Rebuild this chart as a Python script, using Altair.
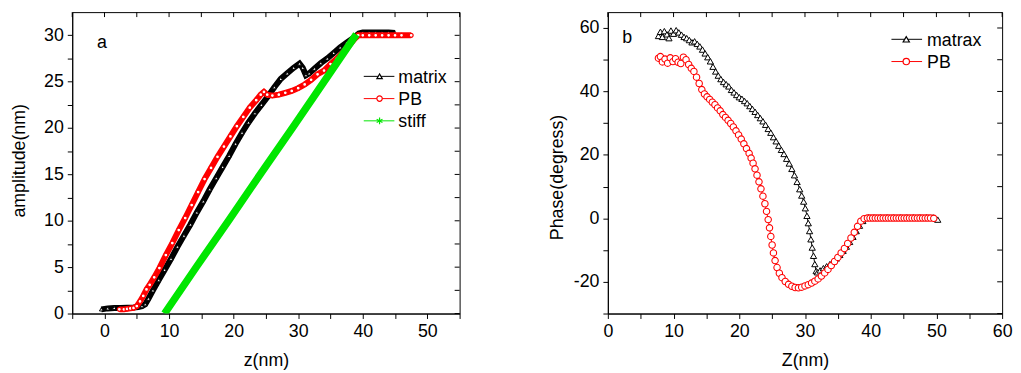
import altair as alt
import pandas as pd

FONT = "Liberation Sans"
FS = 18

# ---------------- panel a : amplitude vs z ----------------
a_matrix_z = [-0.5, 0.5, 1.5, 2.5, 3.5, 4.5, 5.2, 5.8, 6.3, 6.8, 7.5, 8.4, 9.3, 10.3, 11.3, 12.3,
              13.3, 14.3, 15.3, 16.3, 17.3, 18.3, 19.3, 20.3, 21.3, 22.3, 23.3, 24.3, 25.3, 26.3,
              27.3, 28.3, 29.3, 30.2, 30.7, 31.2, 31.7, 32.5, 33.5, 34.5, 35.5, 36.5, 37.5, 38.5,
              39.4, 40.0, 41.0, 42.0, 43.0, 44.0, 45.0]
a_matrix_amp = [0.45, 0.55, 0.6, 0.6, 0.62, 0.65, 0.7, 0.8, 1.0, 1.6, 2.5, 3.6, 4.7, 5.9, 7.2, 8.4,
                9.6, 10.9, 12.1, 13.4, 14.6, 15.8, 17.0, 18.3, 19.5, 20.6, 21.6, 22.5, 23.4, 24.4,
                25.3, 25.9, 26.5, 26.95, 26.5, 25.7, 25.9, 26.4, 27.0, 27.5, 28.1, 28.7, 29.2, 29.7,
                30.2, 30.3, 30.3, 30.3, 30.3, 30.3, 30.25]

a_pb_z = [2.3, 3.0, 3.5, 4.0, 4.5, 5.0, 5.5, 6.0, 6.5, 7.0, 7.7, 8.5, 9.5, 10.5, 11.5, 12.5, 13.5,
          14.5, 15.5, 16.5, 17.5, 18.5, 19.5, 20.5, 21.5, 22.5, 23.5, 24.2, 24.7, 25.2, 26.0, 27.0,
          28.0, 29.0, 30.0, 31.0, 32.0, 33.0, 34.0, 35.0, 36.0, 37.0, 38.0, 38.7, 39.3, 40.0, 41.0,
          42.0, 43.0, 44.0, 45.0, 46.0, 47.5]
a_pb_amp = [0.45, 0.45, 0.5, 0.55, 0.6, 0.8, 1.3, 1.9, 2.6, 3.1, 3.9, 4.9, 6.3, 7.6, 9.0, 10.3, 11.7,
            13.1, 14.5, 15.7, 16.9, 18.0, 19.1, 20.2, 21.2, 22.2, 23.0, 23.6, 23.9, 23.6, 23.5, 23.6,
            23.8, 24.0, 24.3, 24.7, 25.2, 25.8, 26.2, 26.9, 27.5, 28.2, 29.0, 29.6, 30.0, 30.0, 30.0,
            30.0, 30.0, 30.0, 30.0, 30.0, 30.0]

a_stiff_z = [9.3, 14.3, 19.3, 24.3, 29.3, 34.3, 39.0]
a_stiff_amp = [0.0, 5.1, 10.1, 15.2, 20.2, 25.3, 30.1]

a_x_ticks = [-5, 0, 5, 10, 15, 20, 25, 30, 35, 40, 45, 50, 55]
a_y_ticks = [0, 2.5, 5, 7.5, 10, 12.5, 15, 17.5, 20, 22.5, 25, 27.5, 30]
a_legend = ["matrix", "PB", "stiff"]

# ---------------- panel b : phase vs Z ----------------
b_matrax_z = [7.7, 8.0, 8.3, 8.6, 9.0, 9.3, 9.6, 10.0, 10.4, 10.8, 11.2, 11.6, 12.0, 12.4, 12.8, 13.2,
              13.6, 14.0, 14.4, 14.8, 15.2, 15.6, 16.0, 16.4, 16.8, 17.2, 17.6, 18.0, 18.4, 18.8,
              19.2, 19.6, 20.0, 20.4, 20.8, 21.2, 21.6, 22.0, 22.4, 22.8, 23.2, 23.6, 24.0, 24.4,
              24.8, 25.2, 25.6, 26.0, 26.4, 26.8, 27.2, 27.6, 28.0, 28.4, 28.8, 29.2, 29.5, 29.8,
              30.05, 30.3, 30.5, 30.7, 30.9, 31.1, 31.3, 31.5, 31.7, 31.9, 32.3, 32.8, 33.3, 33.8,
              34.3, 34.8, 35.3, 35.8, 36.3, 36.8, 37.3, 37.8, 38.3, 38.8, 39.2, 39.7, 40.5, 41.5,
              42.5, 43.5, 44.5, 45.5, 46.5, 47.5, 48.5, 49.5, 50.2]
b_matrax_ph = [57.5, 58.8, 57.2, 59.0, 58.0, 56.8, 59.2, 58.2, 59.3, 58.6, 57.9, 57.2, 56.8, 56.2, 55.5,
               55.8, 55.0, 54.2, 53.2, 52.0, 50.8, 49.5, 47.8, 46.3, 45.0, 43.9, 43.0, 42.3, 41.6,
               40.5, 39.7, 38.9, 38.2, 37.7, 37.0, 36.3, 35.4, 34.5, 33.6, 32.6, 31.6, 30.6, 29.5,
               28.2, 27.0, 25.6, 24.3, 22.9, 21.6, 20.3, 18.8, 17.3, 15.6, 13.6, 11.5, 9.2, 7.2, 5.3,
               3.2, 0.8, -1.5, -4.0, -6.6, -9.2, -11.8, -14.4, -16.6, -17.0, -16.4, -15.7, -15.1,
               -14.4, -13.6, -12.6, -11.5, -10.2, -8.9, -7.4, -5.8, -4.0, -2.3, -0.8, 0.2, 0.3, 0.3,
               0.3, 0.3, 0.3, 0.3, 0.3, 0.3, 0.3, 0.3, 0.3, -0.4]

b_pb_z = [7.7, 8.0, 8.3, 8.7, 9.1, 9.5, 9.9, 10.3, 10.7, 11.1, 11.5, 11.9, 12.3, 12.7, 13.1, 13.5,
          13.9, 14.3, 14.7, 15.1, 15.5, 15.9, 16.3, 16.7, 17.1, 17.5, 17.9, 18.3, 18.7, 19.1, 19.5,
          19.9, 20.3, 20.7, 21.1, 21.5, 21.8, 22.1, 22.4, 22.7, 23.0, 23.3, 23.6, 23.9, 24.15, 24.4,
          24.6, 24.8, 25.0, 25.2, 25.45, 25.75, 26.1, 26.5, 27.0, 27.5, 28.0, 28.5, 29.0, 29.5,
          30.0, 30.5, 31.0, 31.5, 32.0, 32.5, 33.0, 33.5, 34.0, 34.5, 35.0, 35.5, 36.0, 36.5, 37.0,
          37.5, 38.0, 38.5, 39.0, 39.5, 39.9, 40.3, 40.7, 41.1, 41.5, 41.9, 42.3, 42.7, 43.1, 43.5,
          43.9, 44.3, 44.7, 45.1, 45.5, 45.9, 46.3, 46.7, 47.1, 47.5, 47.9, 48.3, 48.7, 49.1, 49.6]
b_pb_ph = [50.5, 51.0, 49.3, 50.2, 48.9, 50.6, 49.4, 50.3, 49.2, 48.8, 50.8, 50.0, 48.5, 47.3, 46.3,
           44.5, 42.5, 40.6, 39.2, 38.3, 37.5, 36.6, 35.8, 34.8, 33.9, 32.7, 31.8, 30.9, 29.9, 28.8,
           27.6, 26.3, 25.0, 23.5, 22.0, 20.5, 19.0, 17.4, 15.6, 13.6, 11.5, 9.3, 7.0, 4.6, 2.2,
           -0.4, -3.0, -5.7, -8.4, -10.9, -13.3, -15.5, -17.3, -18.7, -19.9, -20.8, -21.4, -21.8,
           -21.9, -21.7, -21.3, -20.9, -20.4, -19.8, -19.1, -18.2, -17.2, -16.1, -14.9, -13.6,
           -12.3, -10.9, -9.5, -7.9, -6.2, -4.4, -2.5, -0.9, -0.1, 0.1, 0.1, 0.1, 0.1, 0.1, 0.1,
           0.1, 0.1, 0.1, 0.1, 0.1, 0.1, 0.1, 0.1, 0.1, 0.1, 0.1, 0.1, 0.1, 0.1, 0.1, 0.1, 0.1,
           0.1, 0.1, 0.0]

b_x_ticks = [0, 5, 10, 15, 20, 25, 30, 35, 40, 45, 50, 55, 60]
b_y_ticks = [-30, -20, -10, 0, 10, 20, 30, 40, 50, 60]
b_legend = ["matrax", "PB"]

BLACK, RED, GREEN = "#000000", "#ff0000", "#00e600"
ASTERISK = "M0,-1L0,1M-0.87,-0.5L0.87,0.5M-0.87,0.5L0.87,-0.5"


def axis(vals, mod, title, tx, ty, baseline):
    return alt.Axis(values=vals,
                    labelExpr=f"datum.value % {mod} === 0 ? '' + datum.value : ''",
                    title=title, titleX=tx, titleY=ty, titleBaseline=baseline,
                    tickSize=5, labelPadding=4, labelFlush=False, labelOverlap=False,
                    grid=False)


def mirror_ticks(xvals, yvals, X, Y, W):
    top = alt.Chart(pd.DataFrame({"v": xvals})).mark_rule(color="black", strokeWidth=1).encode(
        x=X("v"), y=alt.value(0), y2=alt.value(5))
    right = alt.Chart(pd.DataFrame({"v": yvals})).mark_rule(color="black", strokeWidth=1).encode(
        y=Y("v"), x=alt.value(W - 5), x2=alt.value(W))
    return [top, right]


def legend(names, colors, shapes, sizes, ys, x0, x1, xs, xt):
    layers = []
    for n, c, s, sz, y in zip(names, colors, shapes, sizes, ys):
        df = pd.DataFrame({"label": [n]})
        layers.append(alt.Chart(df).mark_rule(color=c, strokeWidth=1).encode(
            x=alt.value(x0), x2=alt.value(x1), y=alt.value(y)))
        layers.append(alt.Chart(df).mark_point(shape=s, size=sz, fill="white", stroke=c,
                                               strokeWidth=1.2, opacity=1).encode(
            x=alt.value(xs), y=alt.value(y)))
        layers.append(alt.Chart(df).mark_text(align="left", baseline="alphabetic", font=FONT,
                                              fontSize=FS, color="black").encode(
            x=alt.value(xt), y=alt.value(y + 6.5), text="label:N"))
    return layers


def label(t, x, y):
    return alt.Chart(pd.DataFrame({"t": [t]})).mark_text(
        align="left", baseline="alphabetic", font=FONT, fontSize=FS, color="black").encode(
        x=alt.value(x), y=alt.value(y), text="t:N")


H = 305
WA, WB = 392, 399

# ---- panel a
xa = alt.Scale(domain=[-5, 55], nice=False, zero=False)
ya = alt.Scale(domain=[0, 32.5], nice=False, zero=False)
ax_xa = axis(a_x_ticks, 10, "z(nm)", WA / 2, 53, "alphabetic")
ax_ya = axis(a_y_ticks, 5, "amplitude(nm)", -53.7, 150, "middle")


def XA(f):
    return alt.X(f"{f}:Q", scale=xa, axis=ax_xa)


def YA(f):
    return alt.Y(f"{f}:Q", scale=ya, axis=ax_ya)


dfa_m = pd.DataFrame({"z": a_matrix_z, "amp": a_matrix_amp})
dfa_p = pd.DataFrame({"z": a_pb_z, "amp": a_pb_amp})
dfa_s = pd.DataFrame({"z": a_stiff_z, "amp": a_stiff_amp})

a_m_line = alt.Chart(dfa_m).mark_line(color=BLACK, strokeWidth=6, clip=True).encode(
    x=XA("z"), y=YA("amp"))
a_m_pts = alt.Chart(dfa_m).mark_point(shape="triangle-up", size=14, fill="white", stroke=BLACK,
                                      strokeWidth=1, opacity=1, clip=True).encode(
    x=XA("z"), y=YA("amp"))
a_p_line = alt.Chart(dfa_p).mark_line(color=RED, strokeWidth=6, clip=True).encode(
    x=XA("z"), y=YA("amp"))
a_p_pts = alt.Chart(dfa_p).mark_point(shape="circle", size=16, fill="white", stroke=RED,
                                      strokeWidth=1.2, opacity=1, clip=True).encode(
    x=XA("z"), y=YA("amp"))
a_s_line = alt.Chart(dfa_s).mark_line(color=GREEN, strokeWidth=7.5, clip=True).encode(
    x=XA("z"), y=YA("amp"))

panel_a = alt.layer(
    a_m_line, a_m_pts, a_p_line, a_p_pts, a_s_line,
    *mirror_ticks(a_x_ticks, a_y_ticks, XA, YA, WA),
    *legend(a_legend, [BLACK, RED, GREEN], ["triangle-up", "circle", ASTERISK], [30, 30, 45],
            [65, 87.5, 110], 295, 326, 311, 330),
    label("a", 25, 36.7),
).properties(width=WA, height=H)

# ---- panel b
xb = alt.Scale(domain=[0, 60], nice=False, zero=False)
yb = alt.Scale(domain=[-30, 65], nice=False, zero=False)
ax_xb = axis(b_x_ticks, 10, "Z(nm)", WB / 2, 53, "alphabetic")
ax_yb = axis(b_y_ticks, 20, "Phase(degress)", -51.3, 166.8, "middle")


def XB(f):
    return alt.X(f"{f}:Q", scale=xb, axis=ax_xb)


def YB(f):
    return alt.Y(f"{f}:Q", scale=yb, axis=ax_yb)


dfb_m = pd.DataFrame({"z": b_matrax_z, "ph": b_matrax_ph})
dfb_p = pd.DataFrame({"z": b_pb_z, "ph": b_pb_ph})

b_m_line = alt.Chart(dfb_m).mark_line(color=BLACK, strokeWidth=1).encode(x=XB("z"), y=YB("ph"))
b_m_pts = alt.Chart(dfb_m).mark_point(shape="triangle-up", size=40, fill="white", stroke=BLACK,
                                      strokeWidth=1, opacity=1).encode(x=XB("z"), y=YB("ph"))
b_p_line = alt.Chart(dfb_p).mark_line(color=RED, strokeWidth=1).encode(x=XB("z"), y=YB("ph"))
b_p_pts = alt.Chart(dfb_p).mark_point(shape="circle", size=42, fill="white", stroke=RED,
                                      strokeWidth=1.1, opacity=1).encode(x=XB("z"), y=YB("ph"))

panel_b = alt.layer(
    b_m_line, b_m_pts, b_p_line, b_p_pts,
    *mirror_ticks(b_x_ticks, b_y_ticks, XB, YB, WB),
    *legend(b_legend, [BLACK, RED], ["triangle-up", "circle"], [40, 42],
            [27.5, 50], 287, 318, 302, 323),
    label("b", 14.7, 31),
).properties(width=WB, height=H)

chart = alt.hconcat(panel_a, panel_b, spacing=88).properties(
    padding={"left": 1, "top": 1, "right": 0, "bottom": 0},
    background="white",
).configure_view(stroke="black", strokeWidth=1).configure_axis(
    labelFont=FONT, titleFont=FONT, labelFontSize=FS, titleFontSize=FS,
    titleFontWeight="normal", labelColor="black", titleColor="black",
    domainColor="black", tickColor="black", domainWidth=1, tickWidth=1,
)

chart.save("out.html", embed_options={"renderer": "svg", "actions": False})
